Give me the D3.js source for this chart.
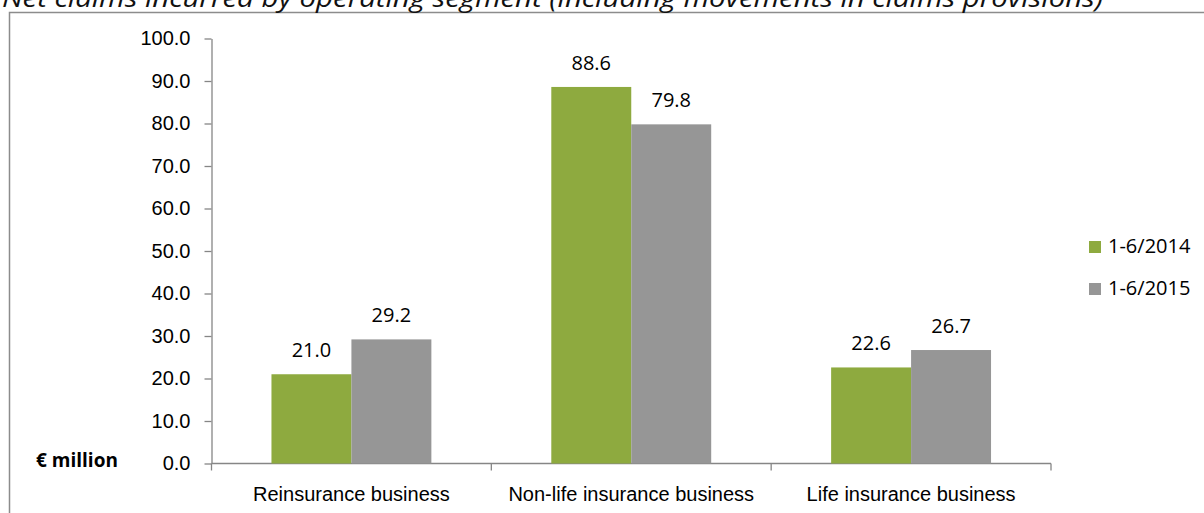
<!DOCTYPE html>
<html>
<head>
<meta charset="utf-8">
<script src="https://cdn.jsdelivr.net/npm/d3@7"></script>
<style>
  html, body { margin: 0; padding: 0; background: #ffffff; }
  svg { display: block; font-family: "Open Sans", "Noto Sans", sans-serif; }
</style>
</head>
<body>
<svg id="chart" width="1204" height="513"></svg>
<script>
// Net claims incurred per operating segment, € million
const categories = ["Reinsurance business", "Non-life insurance business", "Life insurance business"];
const seriesNames = ["1-6/2014", "1-6/2015"];
const values2014 = [21.0, 88.6, 22.6];
const values2015 = [29.2, 79.8, 26.7];
const yTicks = [0, 10, 20, 30, 40, 50, 60, 70, 80, 90, 100];
const seriesColors = ["#8eaa3f", "#969696"];

const title = "Net claims incurred by operating segment (including movements in claims provisions)";
const unitLabel = "€ million";

const svg = d3.select("#chart");
const axisColor = "#868686";
const fontSize = 20;

// outer frame (left and top edges)
svg.append("path")
  .attr("d", "M9.5,513 V12.5 H1204")
  .attr("fill", "none")
  .attr("stroke", "#8c8c8c")
  .attr("stroke-width", 1.5);

// title, partly clipped by the top of the page
svg.append("text")
  .attr("x", 2)
  .attr("y", 7)
  .attr("font-size", 26)
  .attr("font-style", "italic")
  .attr("fill", "#111")
  .attr("textLength", 1101)
  .attr("lengthAdjust", "spacingAndGlyphs")
  .text(title);

const plot = { left: 211.5, right: 1051, top: 38.5, bottom: 463.5 };

const y = d3.scaleLinear().domain([0, 100]).range([plot.bottom, plot.top]);
const x = d3.scaleBand().domain(categories).range([plot.left, plot.right]).paddingInner(0).paddingOuter(0);
const xs = d3.scaleBand().domain(seriesNames).range([0, x.bandwidth()]).paddingInner(0).paddingOuter(0.75);

const rows = categories.map((c, i) => ({ category: c, values: [values2014[i], values2015[i]] }));

// y axis
const yAxis = d3.axisLeft(y)
  .tickValues(yTicks)
  .tickFormat(d3.format(".1f"))
  .tickSizeInner(7)
  .tickSizeOuter(0)
  .tickPadding(14);
const gy = svg.append("g").attr("transform", `translate(${plot.left},0)`).call(yAxis);
gy.select(".domain").attr("stroke", axisColor).attr("stroke-width", 1.3);
gy.selectAll(".tick line").attr("stroke", axisColor).attr("stroke-width", 1.3);
gy.selectAll(".tick text").attr("font-size", fontSize).attr("fill", "#000").attr("font-family", null);

// x axis: labels centred on categories, ticks at category boundaries
const xAxis = d3.axisBottom(x).tickSize(0).tickPadding(23);
const gx = svg.append("g").attr("transform", `translate(0,${plot.bottom})`).call(xAxis);
gx.select(".domain").remove();
gx.selectAll(".tick text").attr("font-size", fontSize).attr("fill", "#000").attr("font-family", null);

const boundaries = categories.map(c => x(c)).concat([x(categories[categories.length - 1]) + x.bandwidth()]);
const gb = svg.append("g").attr("transform", `translate(0,${plot.bottom})`);
gb.append("line")
  .attr("x1", plot.left).attr("x2", plot.right)
  .attr("stroke", axisColor).attr("stroke-width", 1.3);
gb.selectAll("line.b").data(boundaries).join("line")
  .attr("class", "b")
  .attr("x1", d => d).attr("x2", d => d)
  .attr("y1", 0).attr("y2", 7)
  .attr("stroke", axisColor).attr("stroke-width", 1.3);

// bars
const groups = svg.append("g").selectAll("g").data(rows).join("g")
  .attr("transform", d => `translate(${x(d.category)},0)`);

groups.selectAll("rect")
  .data(d => d.values.map((v, i) => ({ series: seriesNames[i], value: v, idx: i })))
  .join("rect")
  .attr("x", d => xs(d.series))
  .attr("width", xs.bandwidth())
  .attr("y", d => y(d.value))
  .attr("height", d => y(0) - y(d.value))
  .attr("fill", d => seriesColors[d.idx]);

// value labels
groups.selectAll("text")
  .data(d => d.values.map((v, i) => ({ series: seriesNames[i], value: v })))
  .join("text")
  .attr("x", d => xs(d.series) + xs.bandwidth() / 2)
  .attr("y", d => y(d.value) - 17)
  .attr("text-anchor", "middle")
  .attr("font-size", fontSize)
  .attr("fill", "#000")
  .text(d => d3.format(".1f")(d.value));

// unit label
svg.append("text")
  .attr("x", 36)
  .attr("y", 467)
  .attr("font-size", 19)
  .attr("font-weight", "bold")
  .attr("fill", "#000")
  .text(unitLabel);

// legend
const legend = svg.append("g").attr("transform", "translate(1089,241)");
const items = legend.selectAll("g").data(seriesNames).join("g")
  .attr("transform", (d, i) => `translate(0,${i * 42})`);
items.append("rect")
  .attr("width", 12).attr("height", 12)
  .attr("fill", (d, i) => seriesColors[i]);
items.append("text")
  .attr("x", 19)
  .attr("y", 12)
  .attr("font-size", fontSize)
  .attr("fill", "#000")
  .text(d => d);
</script>
</body>
</html>
